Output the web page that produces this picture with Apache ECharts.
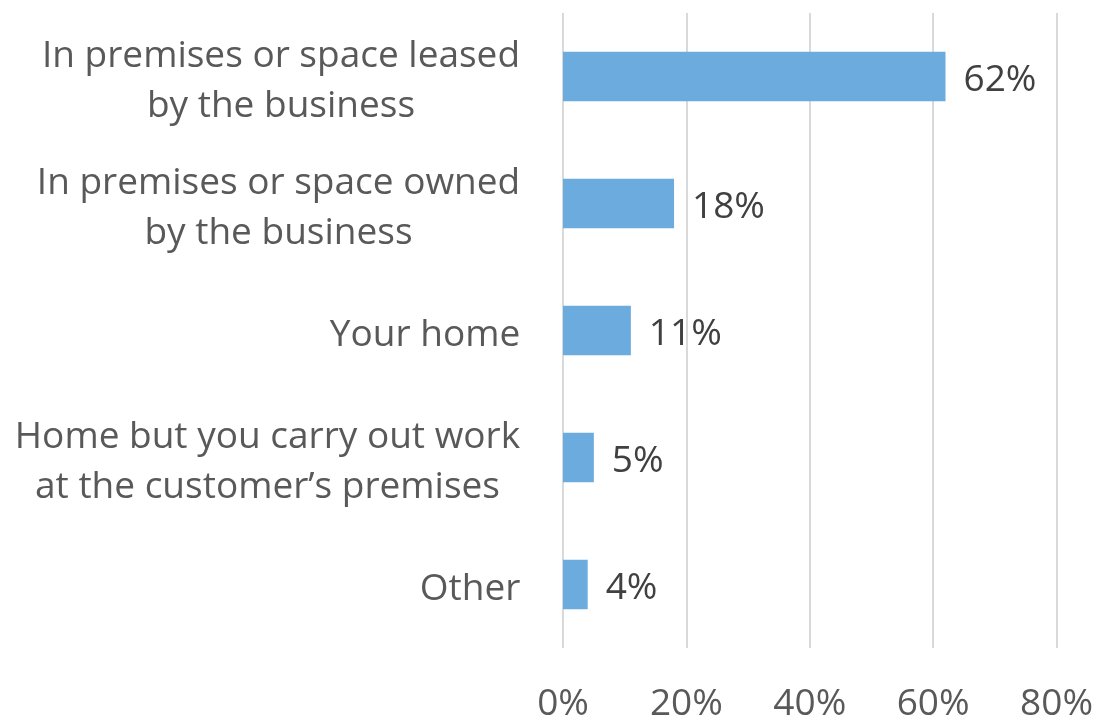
<!DOCTYPE html>
<html>
<head>
<meta charset="utf-8">
<script src="https://cdn.jsdelivr.net/npm/echarts@6/dist/echarts.min.js"></script>
<style>
  html, body { margin: 0; padding: 0; background: #ffffff; }
  #chart { width: 1096px; height: 723px; }
</style>
</head>
<body>
<div id="chart"></div>
<script>
// Where the business operates from (share of respondents)
const categories = [
  'In premises or space leased\nby the business',
  'In premises or space owned\nby the business',
  'Your home',
  'Home but you carry out work\nat the customer\u2019s premises',
  'Other'
];
const values = [62, 18, 11, 5, 4];
const tickValues = [0, 20, 40, 60, 80];

const FONT = '"Open Sans", sans-serif';
const CAT_SIZE = 37;

// Width of the widest line of each label, so lines can be centred on each other
const ctx = document.createElement('canvas').getContext('2d');
ctx.font = CAT_SIZE + 'px ' + FONT;
const rich = {};
categories.forEach((c, i) => {
  const w = Math.max(...c.split('\n').map(l => ctx.measureText(l).width));
  rich['c' + i] = { width: Math.ceil(w) + 1, align: 'center', fontSize: CAT_SIZE, fontFamily: FONT, color: '#595959', lineHeight: 50 };
});

const chart = echarts.init(document.getElementById('chart'), null, { renderer: 'canvas' });
chart.setOption({
  animation: false,
  backgroundColor: '#ffffff',
  grid: { left: 563, right: 39, top: 13, bottom: 73, containLabel: false },
  xAxis: {
    type: 'value',
    min: 0,
    max: 80,
    interval: 20,
    axisLine: { show: false },
    axisTick: { show: false },
    splitLine: { show: true, lineStyle: { color: '#d9d9d9', width: 2 } },
    axisLabel: {
      margin: 38,
      fontSize: 37,
      fontFamily: FONT,
      color: '#595959',
      formatter: v => tickValues.includes(v) ? v + '%' : ''
    }
  },
  yAxis: {
    type: 'category',
    inverse: true,
    data: categories,
    axisLine: { show: false },
    axisTick: { show: false },
    axisLabel: {
      margin: 42,
      align: 'right',
      padding: [10, 0, 0, 0],
      rich: rich,
      formatter: (v, idx) => v.split('\n').map(l => '{c' + idx + '|' + l + '}').join('\n')
    }
  },
  series: [{
    type: 'bar',
    data: values,
    barWidth: '39%',
    itemStyle: { color: '#6cabdd' },
    label: {
      show: true,
      position: 'right',
      distance: 18,
      offset: [0, 4],
      fontSize: 37,
      fontFamily: FONT,
      color: '#404040',
      formatter: p => p.value + '%'
    }
  }]
});
</script>
</body>
</html>
